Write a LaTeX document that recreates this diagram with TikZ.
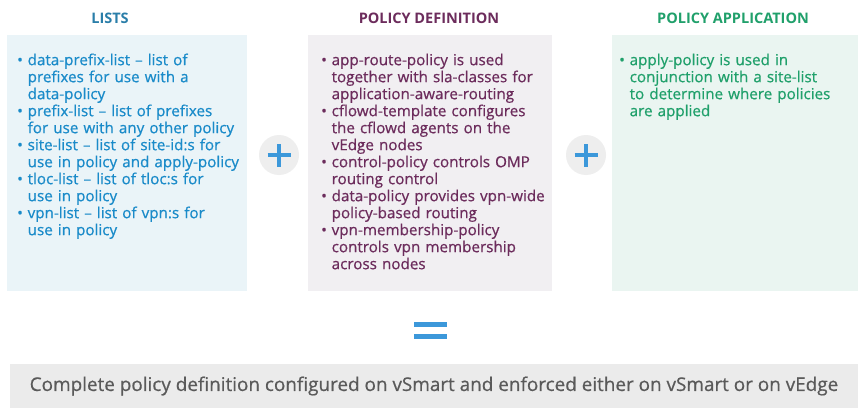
\documentclass[tikz,border=0pt]{standalone}
\usepackage{fontspec}
\setmainfont{Open Sans}
\newfontfamily\itemfont[FakeBold=0.6]{Open Sans}
\usepackage{xcolor}
\usepackage{tikz}
\usetikzlibrary{positioning}
\definecolor{ListBlue}{HTML}{1A8BC9}
\definecolor{ListHead}{HTML}{2A7EA9}
\definecolor{ListFill}{HTML}{EAF4F8}
\definecolor{DefPurple}{HTML}{6C2C5C}
\definecolor{DefFill}{HTML}{F1EFF2}
\definecolor{AppGreen}{HTML}{20A06B}
\definecolor{AppFill}{HTML}{EAF5F1}
\definecolor{PlusBlue}{HTML}{3C98DA}
\definecolor{PlusFill}{HTML}{EEEEEE}
\definecolor{SumFill}{HTML}{EBEBEB}
\definecolor{SumGray}{HTML}{5A5A5A}
% bullet item with hanging indent
\newcommand{\bitem}{\par\noindent\hangindent=10.5pt\hangafter=1\makebox[10.5pt][l]{\textbullet}}

\begin{document}
\begin{tikzpicture}[x=1pt, y=-1pt,
    head/.style={font=\fontsize{14.5}{16}\selectfont\bfseries},
    panel/.style={anchor=north west, inner sep=0pt, minimum height=256pt},
    itemtext/.style={anchor=north west, inner sep=0pt, text width=250pt, align=left, font=\itemfont\fontsize{15.2}{17}\selectfont},
    plussign/.style={circle, fill=PlusFill, minimum size=40pt, inner sep=0pt},
    bar/.style={PlusBlue, line width=4pt}]
    \useasboundingbox[fill=white] (0,0) rectangle (860,412);

    % three columns
    \node[panel, fill=ListFill, minimum width=240pt] (lists) at (7,35) {};
    \node[panel, fill=DefFill, minimum width=244pt] (definition) at (308,35) {};
    \node[panel, fill=AppFill, minimum width=246pt] (application) at (612,35) {};

    \node[head, text=ListHead] (listhead) at (110,18) {LISTS};
    \node[head, text=DefPurple] (defhead) at (429,18) {POLICY DEFINITION};
    \node[head, text=AppGreen] (apphead) at (733,18) {POLICY APPLICATION};

    \node[itemtext, text=ListBlue] (listtext) at ([xshift=10pt, yshift=-13pt]lists.north west) {%
        \bitem data-prefix-list – list of\newline prefixes for use with a\newline data-policy
        \bitem prefix-list – list of prefixes\newline for use with any other policy
        \bitem site-list – list of site-id:s for\newline use in policy and apply-policy
        \bitem tloc-list – list of tloc:s for\newline use in policy
        \bitem vpn-list – list of vpn:s for\newline use in policy\par};

    \node[itemtext, text=DefPurple] (deftext) at ([xshift=13pt, yshift=-13pt]definition.north west) {%
        \bitem app-route-policy is used\newline together with sla-classes for\newline application-aware-routing
        \bitem cflowd-template configures\newline the cflowd agents on the\newline vEdge nodes
        \bitem control-policy controls OMP\newline routing control
        \bitem data-policy provides vpn-wide\newline policy-based routing
        \bitem vpn-membership-policy\newline controls vpn membership\newline across nodes\par};

    \node[itemtext, text=AppGreen] (apptext) at ([xshift=7pt, yshift=-13pt]application.north west) {%
        \bitem apply-policy is used in\newline conjunction with a site-list\newline to determine where policies\newline are applied\par};

    % plus signs
    \node[plussign] (plusa) at (279,155) {};
    \draw[bar] ([xshift=-11.5pt]plusa.center) -- ([xshift=11.5pt]plusa.center);
    \draw[bar] ([yshift=-11.5pt]plusa.center) -- ([yshift=11.5pt]plusa.center);
    \node[plussign] (plusb) at (586,155) {};
    \draw[bar] ([xshift=-11.5pt]plusb.center) -- ([xshift=11.5pt]plusb.center);
    \draw[bar] ([yshift=-11.5pt]plusb.center) -- ([yshift=11.5pt]plusb.center);

    % equals sign
    \coordinate (equals) at (430.5,330.5);
    \draw[bar, line width=5pt] ([xshift=-16.5pt, yshift=6pt]equals) -- ([xshift=16.5pt, yshift=6pt]equals);
    \draw[bar, line width=5pt] ([xshift=-16.5pt, yshift=-6pt]equals) -- ([xshift=16.5pt, yshift=-6pt]equals);

    % result
    \node[fill=SumFill, minimum width=848pt, minimum height=44pt, inner sep=0pt, text=SumGray,
          font=\itemfont\fontsize{18.9}{21}\selectfont] (summary) at (434,386)
        {Complete policy definition configured on vSmart and enforced either on vSmart or on vEdge};
\end{tikzpicture}
\end{document}
